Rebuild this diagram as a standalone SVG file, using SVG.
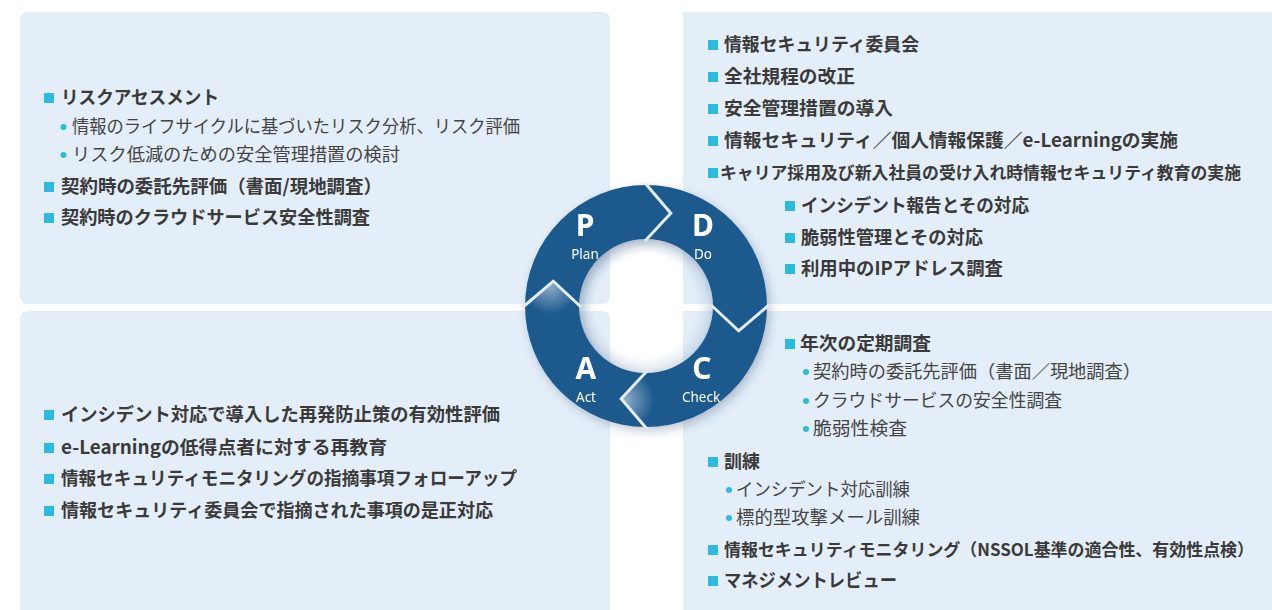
<svg xmlns="http://www.w3.org/2000/svg" width="1272" height="610" viewBox="0 0 1272 610">
<style>
.panel{fill:#e3eef8}
.h{font-family:"Noto Sans CJK JP","Noto Sans",sans-serif;font-weight:700;font-size:18.5px;fill:#3a3a3a}
.hs{font-size:17px}
.s{font-family:"Noto Sans CJK JP","Noto Sans",sans-serif;font-weight:400;font-size:18px;fill:#444444}
.sq{fill:#2cbbe0}
.dot{fill:#2cbbe0}
.seg{fill:#1c5a8e}
.sep{fill:none;stroke:#e4ebf2;stroke-width:3;stroke-linejoin:miter}
.big{font-family:"Noto Sans","Open Sans",sans-serif;font-weight:700;font-size:30px;fill:#ffffff;text-anchor:middle}
.lbl{font-family:"Noto Sans","Open Sans",sans-serif;font-weight:400;font-size:13.5px;fill:#ffffff;text-anchor:middle}
</style>
<defs>
<filter id="shadow" x="-20%" y="-20%" width="140%" height="140%">
<feDropShadow dx="3" dy="4" stdDeviation="5" flood-color="#1a3b5c" flood-opacity="0.28"/>
</filter>
<radialGradient id="hole" cx="646" cy="306" r="67" gradientUnits="userSpaceOnUse">
<stop offset="0.75" stop-color="#9fb6cc" stop-opacity="0"/>
<stop offset="1" stop-color="#9fb6cc" stop-opacity="0.35"/>
</radialGradient>
<radialGradient id="hlA" cx="550" cy="286" r="28" gradientUnits="userSpaceOnUse">
<stop offset="0" stop-color="#ffffff" stop-opacity="0.5"/>
<stop offset="1" stop-color="#ffffff" stop-opacity="0"/>
</radialGradient>
<radialGradient id="hlC" cx="626" cy="400" r="28" gradientUnits="userSpaceOnUse">
<stop offset="0" stop-color="#ffffff" stop-opacity="0.5"/>
<stop offset="1" stop-color="#ffffff" stop-opacity="0"/>
</radialGradient>
<clipPath id="clipA"><path d="M646,427 A121,121 0 0 1 525,306 L553.3,281.2 L579,306 A67,67 0 0 0 646,373 L621.2,398.7 Z"/></clipPath>
<clipPath id="clipC"><path d="M767,306 A121,121 0 0 1 646,427 L621.2,398.7 L646,373 A67,67 0 0 0 713,306 L738.7,330.8 Z"/></clipPath>
</defs>
<rect x="0" y="0" width="1272" height="610" fill="#ffffff"/>

<g id="panel-plan">
<rect class="panel" x="20" y="12" width="590" height="292" rx="8"/>
<rect class="sq" x="44" y="93" width="10" height="10"/>
<text class="h" x="61" y="104" textLength="158" lengthAdjust="spacingAndGlyphs">リスクアセスメント</text>
<circle class="dot" cx="63.5" cy="127" r="3"/>
<text class="s" x="72" y="133" textLength="448" lengthAdjust="spacingAndGlyphs">情報のライフサイクルに基づいたリスク分析、リスク評価</text>
<circle class="dot" cx="63.5" cy="155" r="3"/>
<text class="s" x="72" y="161" textLength="328" lengthAdjust="spacingAndGlyphs">リスク低減のための安全管理措置の検討</text>
<rect class="sq" x="44" y="182" width="10" height="10"/>
<text class="h" x="61" y="193" textLength="321" lengthAdjust="spacingAndGlyphs">契約時の委託先評価（書面/現地調査）</text>
<rect class="sq" x="44" y="213" width="10" height="10"/>
<text class="h" x="61" y="224" textLength="309" lengthAdjust="spacingAndGlyphs">契約時のクラウドサービス安全性調査</text>
</g>

<g id="panel-do">
<rect class="panel" x="683" y="12" width="600" height="292"/>
<rect class="sq" x="708" y="40" width="10" height="10"/>
<text class="h" x="724" y="51" textLength="195" lengthAdjust="spacingAndGlyphs">情報セキュリティ委員会</text>
<rect class="sq" x="708" y="72" width="10" height="10"/>
<text class="h" x="724" y="83" textLength="131" lengthAdjust="spacingAndGlyphs">全社規程の改正</text>
<rect class="sq" x="708" y="104" width="10" height="10"/>
<text class="h" x="724" y="115" textLength="169" lengthAdjust="spacingAndGlyphs">安全管理措置の導入</text>
<rect class="sq" x="708" y="136" width="10" height="10"/>
<text class="h" x="724" y="147" textLength="454" lengthAdjust="spacingAndGlyphs">情報セキュリティ／個人情報保護／e-Learningの実施</text>
<rect class="sq" x="708" y="168" width="10" height="10"/>
<text class="h hs" x="720" y="179" textLength="521" lengthAdjust="spacingAndGlyphs">キャリア採用及び新入社員の受け入れ時情報セキュリティ教育の実施</text>
<rect class="sq" x="785" y="201" width="10" height="10"/>
<text class="h" x="801" y="212" textLength="228" lengthAdjust="spacingAndGlyphs">インシデント報告とその対応</text>
<rect class="sq" x="785" y="233" width="10" height="10"/>
<text class="h" x="801" y="244" textLength="182" lengthAdjust="spacingAndGlyphs">脆弱性管理とその対応</text>
<rect class="sq" x="785" y="264" width="10" height="10"/>
<text class="h" x="801" y="275" textLength="202" lengthAdjust="spacingAndGlyphs">利用中のIPアドレス調査</text>
</g>

<g id="panel-act">
<rect class="panel" x="20" y="311" width="590" height="310" rx="8"/>
<rect class="sq" x="44" y="410" width="10" height="10"/>
<text class="h" x="61" y="421" textLength="439" lengthAdjust="spacingAndGlyphs">インシデント対応で導入した再発防止策の有効性評価</text>
<rect class="sq" x="44" y="443" width="10" height="10"/>
<text class="h" x="61" y="454" textLength="326" lengthAdjust="spacingAndGlyphs">e-Learningの低得点者に対する再教育</text>
<rect class="sq" x="44" y="474" width="10" height="10"/>
<text class="h" x="61" y="485" textLength="456" lengthAdjust="spacingAndGlyphs">情報セキュリティモニタリングの指摘事項フォローアップ</text>
<rect class="sq" x="44" y="506" width="10" height="10"/>
<text class="h" x="61" y="517" textLength="432" lengthAdjust="spacingAndGlyphs">情報セキュリティ委員会で指摘された事項の是正対応</text>
</g>

<g id="panel-check">
<rect class="panel" x="683" y="311" width="600" height="310"/>
<rect class="sq" x="785" y="339" width="10" height="10"/>
<text class="h" x="800" y="350" textLength="131" lengthAdjust="spacingAndGlyphs">年次の定期調査</text>
<circle class="dot" cx="806" cy="372" r="3"/>
<text class="s" x="813" y="378" textLength="328" lengthAdjust="spacingAndGlyphs">契約時の委託先評価（書面／現地調査）</text>
<circle class="dot" cx="806" cy="401" r="3"/>
<text class="s" x="813" y="407" textLength="249" lengthAdjust="spacingAndGlyphs">クラウドサービスの安全性調査</text>
<circle class="dot" cx="806" cy="429" r="3"/>
<text class="s" x="813" y="435" textLength="94" lengthAdjust="spacingAndGlyphs">脆弱性検査</text>
<rect class="sq" x="708" y="457" width="10" height="10"/>
<text class="h" x="724" y="468" textLength="36" lengthAdjust="spacingAndGlyphs">訓練</text>
<circle class="dot" cx="729" cy="490" r="3"/>
<text class="s" x="736" y="496" textLength="174" lengthAdjust="spacingAndGlyphs">インシデント対応訓練</text>
<circle class="dot" cx="729" cy="518" r="3"/>
<text class="s" x="736" y="524" textLength="184" lengthAdjust="spacingAndGlyphs">標的型攻撃メール訓練</text>
<rect class="sq" x="708" y="545" width="10" height="10"/>
<text class="h hs" x="724" y="556" textLength="530" lengthAdjust="spacingAndGlyphs">情報セキュリティモニタリング（NSSOL基準の適合性、有効性点検）</text>
<rect class="sq" x="708" y="576" width="10" height="10"/>
<text class="h" x="724" y="587" textLength="173" lengthAdjust="spacingAndGlyphs">マネジメントレビュー</text>
</g>

<g id="pdca-cycle">
<circle cx="646" cy="306" r="67" fill="url(#hole)"/>
<g filter="url(#shadow)">
<g id="seg-plan">
<path class="seg" d="M525,306 A121,121 0 0 1 646,185 L670.8,213.3 L646,239 A67,67 0 0 0 579,306 L553.3,281.2 Z"/>
<text class="big" x="585" y="235.5">P</text>
<text class="lbl" x="585" y="258.5">Plan</text>
</g>
<g id="seg-do">
<path class="seg" d="M646,185 A121,121 0 0 1 767,306 L738.7,330.8 L713,306 A67,67 0 0 0 646,239 L670.8,213.3 Z"/>
<text class="big" x="703" y="235.5">D</text>
<text class="lbl" x="703" y="258.5">Do</text>
</g>
<g id="seg-check">
<path class="seg" d="M767,306 A121,121 0 0 1 646,427 L621.2,398.7 L646,373 A67,67 0 0 0 713,306 L738.7,330.8 Z"/>
<rect x="590" y="360" width="70" height="70" fill="url(#hlC)" clip-path="url(#clipC)"/>
<text class="big" x="702" y="378.5">C</text>
<text class="lbl" x="701" y="401.5">Check</text>
</g>
<g id="seg-act">
<path class="seg" d="M646,427 A121,121 0 0 1 525,306 L553.3,281.2 L579,306 A67,67 0 0 0 646,373 L621.2,398.7 Z"/>
<rect x="520" y="270" width="70" height="70" fill="url(#hlA)" clip-path="url(#clipA)"/>
<text class="big" x="586" y="378.5">A</text>
<text class="lbl" x="586" y="401.5">Act</text>
</g>
</g>
<g id="separators">
<polyline class="sep" points="645,183 670.8,213.3 645,241"/>
<polyline class="sep" points="769,305 738.7,330.8 711,305"/>
<polyline class="sep" points="647,429 621.2,398.7 647,371"/>
<polyline class="sep" points="523,307 553.3,281.2 581,307"/>
</g>
</g>
</svg>
